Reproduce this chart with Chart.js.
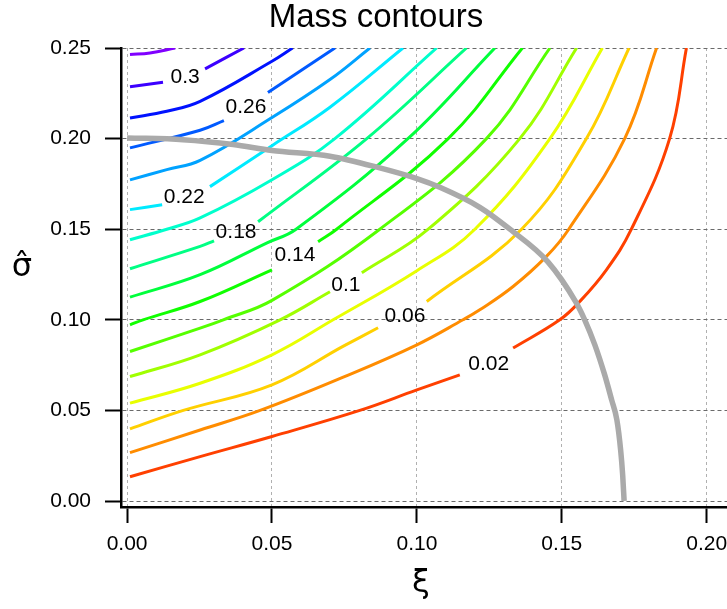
<!DOCTYPE html>
<html>
<head>
<meta charset="utf-8">
<title>Mass contours</title>
<script src="https://cdn.jsdelivr.net/npm/chart.js@4.4.1/dist/chart.umd.min.js"></script>
<style>
  body { margin: 0; background: #ffffff; }
</style>
</head>
<body>
<canvas id="massChart" width="727" height="609"></canvas>
<script>
// contour levels, lowest first
var levels = [0.02, 0.04, 0.06, 0.08, 0.10, 0.12, 0.14, 0.16, 0.18, 0.20, 0.22, 0.24, 0.26, 0.28, 0.30, 0.32];

// [xi, sigma], null = gap left for the label
var c02 = [[0.001, 0.0134], [0.0252, 0.0245], [0.05, 0.0356], [0.0803, 0.05], [0.1, 0.0613], [0.1148, 0.0696], null, [0.1332, 0.0844], [0.1493, 0.1], [0.1562, 0.1101], [0.1654, 0.1276], [0.174, 0.15], [0.1872, 0.2], [0.193, 0.25]];
var c04 = [[0.001, 0.0267], [0.0252, 0.0392], [0.0459, 0.05], [0.0748, 0.0685], [0.1, 0.0862], [0.1159, 0.1], [0.1217, 0.1055], [0.1332, 0.1184], [0.1447, 0.135], [0.1524, 0.15], [0.1717, 0.2], [0.1827, 0.25]];
var c06 = [[0.001, 0.0398], [0.0194, 0.05], [0.05, 0.0641], [0.0748, 0.0856], [0.0866, 0.0956], null, [0.1034, 0.1101], [0.1361, 0.15], [0.1585, 0.2], [0.1732, 0.25]];
var c08 = [[0.001, 0.054], [0.0252, 0.065], [0.05, 0.0807], [0.0711, 0.1], [0.1, 0.1271], [0.12, 0.15], [0.1459, 0.2], [0.164, 0.25]];
var c10 = [[0.001, 0.0687], [0.0252, 0.0807], [0.0528, 0.1], [0.07, 0.1155], null, [0.081, 0.126], [0.1039, 0.15], [0.1355, 0.2], [0.1551, 0.25]];
var c12 = [[0.001, 0.0825], [0.0252, 0.0954], [0.0332, 0.1], [0.05, 0.1107], [0.0872, 0.15], [0.124, 0.2], [0.1459, 0.25]];
var c14 = [[0.001, 0.0972], [0.0055, 0.1], [0.0252, 0.1101], [0.05, 0.1276], null, [0.0659, 0.1431], [0.0723, 0.15], [0.1108, 0.2], [0.1364, 0.25]];
var c16 = [[0.001, 0.1125], [0.0252, 0.1249], [0.0483, 0.1425], [0.0583, 0.15], [0.0969, 0.2], [0.1269, 0.25]];
var c18 = [[0.001, 0.1282], [0.0252, 0.1405], [0.03, 0.1436], null, [0.0452, 0.1541], [0.0827, 0.2], [0.1171, 0.25]];
var c20 = [[0.001, 0.1442], [0.0137, 0.15], [0.0252, 0.1562], [0.05, 0.1773], [0.0717, 0.2], [0.1068, 0.25]];
var c22 = [[0.001, 0.1608], [0.0121, 0.1635], null, [0.0286, 0.1735], [0.05, 0.1961], [0.0699, 0.2172], [0.0952, 0.25]];
var c24 = [[0.001, 0.1772], [0.0137, 0.1829], [0.0252, 0.188], [0.05, 0.2116], [0.07, 0.2326], [0.0838, 0.25]];
var c26 = [[0.001, 0.1949], [0.0252, 0.2046], [0.0334, 0.2099], null, [0.0486, 0.2254], [0.0717, 0.25]];
var c28 = [[0.001, 0.2114], [0.0137, 0.2151], [0.0252, 0.2206], [0.05, 0.2427], [0.0571, 0.25]];
var c30 = [[0.001, 0.2286], [0.0124, 0.2311], null, [0.0269, 0.2385], [0.0403, 0.25]];
var c32 = [[0.001, 0.2464], [0.0079, 0.2473], [0.0166, 0.25]];
var contours = [c02, c04, c06, c08, c10, c12, c14, c16, c18, c20, c22, c24, c26, c28, c30, c32];

// grey curve
var boundary = [[0, 0.2004], [0.0193, 0.1994], [0.0366, 0.1967], [0.05, 0.1934], [0.07, 0.1903], [0.0872, 0.1838], [0.1, 0.1779], [0.1079, 0.1731], [0.1217, 0.1621], [0.1321, 0.15], [0.1452, 0.132], [0.1548, 0.1099], [0.1579, 0.1], [0.1614, 0.0862], [0.1648, 0.0696], [0.1672, 0.0558], [0.169, 0.0448], [0.1703, 0.0282], [0.171, 0.0144], [0.1715, 0]];

// contour labels
var labelText = ['0.3', '0.26', '0.22', '0.18', '0.14', '0.1', '0.06', '0.02'];
var labelXi = [0.0200, 0.0410, 0.0197, 0.0376, 0.0579, 0.0755, 0.0959, 0.1248];
var labelSigma = [0.2340, 0.2171, 0.1674, 0.1481, 0.1354, 0.1193, 0.1020, 0.0757];

var xTicks = [0, 0.05, 0.10, 0.15, 0.20];
var yTicks = [0, 0.05, 0.10, 0.15, 0.20, 0.25];

var palette = ['#ff4000', '#ff8c00', '#ffd000', '#e8ff00', '#a0ff00', '#55ff00', '#10ff00', '#00ff3c',
               '#00ff84', '#00ffcc', '#00eaff', '#00a2ff', '#005aff', '#0012ff', '#3c00ff', '#8000ff'];

function toPoints(arr) {
    var out = [];
    for (var i = 0; i < arr.length; i++) {
        if (arr[i] === null) {
            out.push({x: arr[i - 1][0], y: null});
        } else {
            out.push({x: arr[i][0], y: arr[i][1]});
        }
    }
    return out;
}

var datasets = [{
    label: 'boundary',
    data: toPoints(boundary),
    borderColor: '#aaaaaa',
    borderWidth: 5.5,
    pointRadius: 0,
    cubicInterpolationMode: 'monotone',
    order: 0
}];
contours.forEach(function(c, i) {
    datasets.push({
        label: levels[i].toFixed(2),
        data: toPoints(c),
        borderColor: palette[i],
        borderWidth: 3,
        pointRadius: 0,
        tension: 0.4,
        order: 1
    });
});

var sans = '"Liberation Sans", Arial, sans-serif';

var annotate = {
    id: 'annotate',
    afterDatasetsDraw: function(chart) {
        var ctx = chart.ctx;
        var xs = chart.scales.x, ys = chart.scales.y;
        ctx.save();
        ctx.fillStyle = '#000';
        ctx.textAlign = 'center';
        ctx.textBaseline = 'middle';
        ctx.font = '21px ' + sans;
        for (var i = 0; i < labelText.length; i++) {
            ctx.fillText(labelText[i], xs.getPixelForValue(labelXi[i]), ys.getPixelForValue(labelSigma[i]));
        }
        ctx.font = '33px ' + sans;
        ctx.fillText('Mass contours', 376, 18);
        ctx.font = '32px "DejaVu Sans", sans-serif';
        ctx.fillText('\u03be', 421, 584);
        ctx.fillText('\u03c3\u0302', 22, 268);
        ctx.restore();
    }
};

new Chart(document.getElementById('massChart'), {
    type: 'line',
    data: { datasets: datasets },
    options: {
        responsive: false,
        animation: false,
        layout: { padding: { top: 48, right: 0, left: 0, bottom: 0 } },
        plugins: {
            legend: { display: false },
            tooltip: { enabled: false },
            title: { display: false }
        },
        scales: {
            x: {
                type: 'linear',
                min: -0.0021,
                max: 0.207,
                afterBuildTicks: function(s) { s.ticks = xTicks.map(function(v) { return {value: v}; }); },
                afterFit: function(s) { s.height = 102; s.paddingLeft = 0; s.paddingRight = 0; },
                grid: { color: '#b0b0b0', lineWidth: 1, tickLength: 16, tickColor: '#000', tickWidth: 2, tickBorderDash: [] },
                border: { display: true, color: '#000', width: 2.5, dash: [3, 3] },
                ticks: {
                    color: '#000', font: { family: sans, size: 21 }, padding: 9,
                    maxRotation: 0, autoSkip: false,
                    callback: function(v) { return v.toFixed(2); }
                }
            },
            y: {
                type: 'linear',
                min: -0.0033,
                max: 0.25,
                afterBuildTicks: function(s) { s.ticks = yTicks.map(function(v) { return {value: v}; }); },
                afterFit: function(s) { s.width = 121; },
                grid: { color: '#6a6a6a', lineWidth: 1, tickLength: 16, tickColor: '#000', tickWidth: 2, tickBorderDash: [] },
                border: { display: true, color: '#000', width: 2.5, dash: [4, 3] },
                ticks: {
                    color: '#000', font: { family: sans, size: 21 }, padding: 14,
                    autoSkip: false,
                    callback: function(v) { return v.toFixed(2); }
                }
            }
        }
    },
    plugins: [annotate]
});
</script>
</body>
</html>
